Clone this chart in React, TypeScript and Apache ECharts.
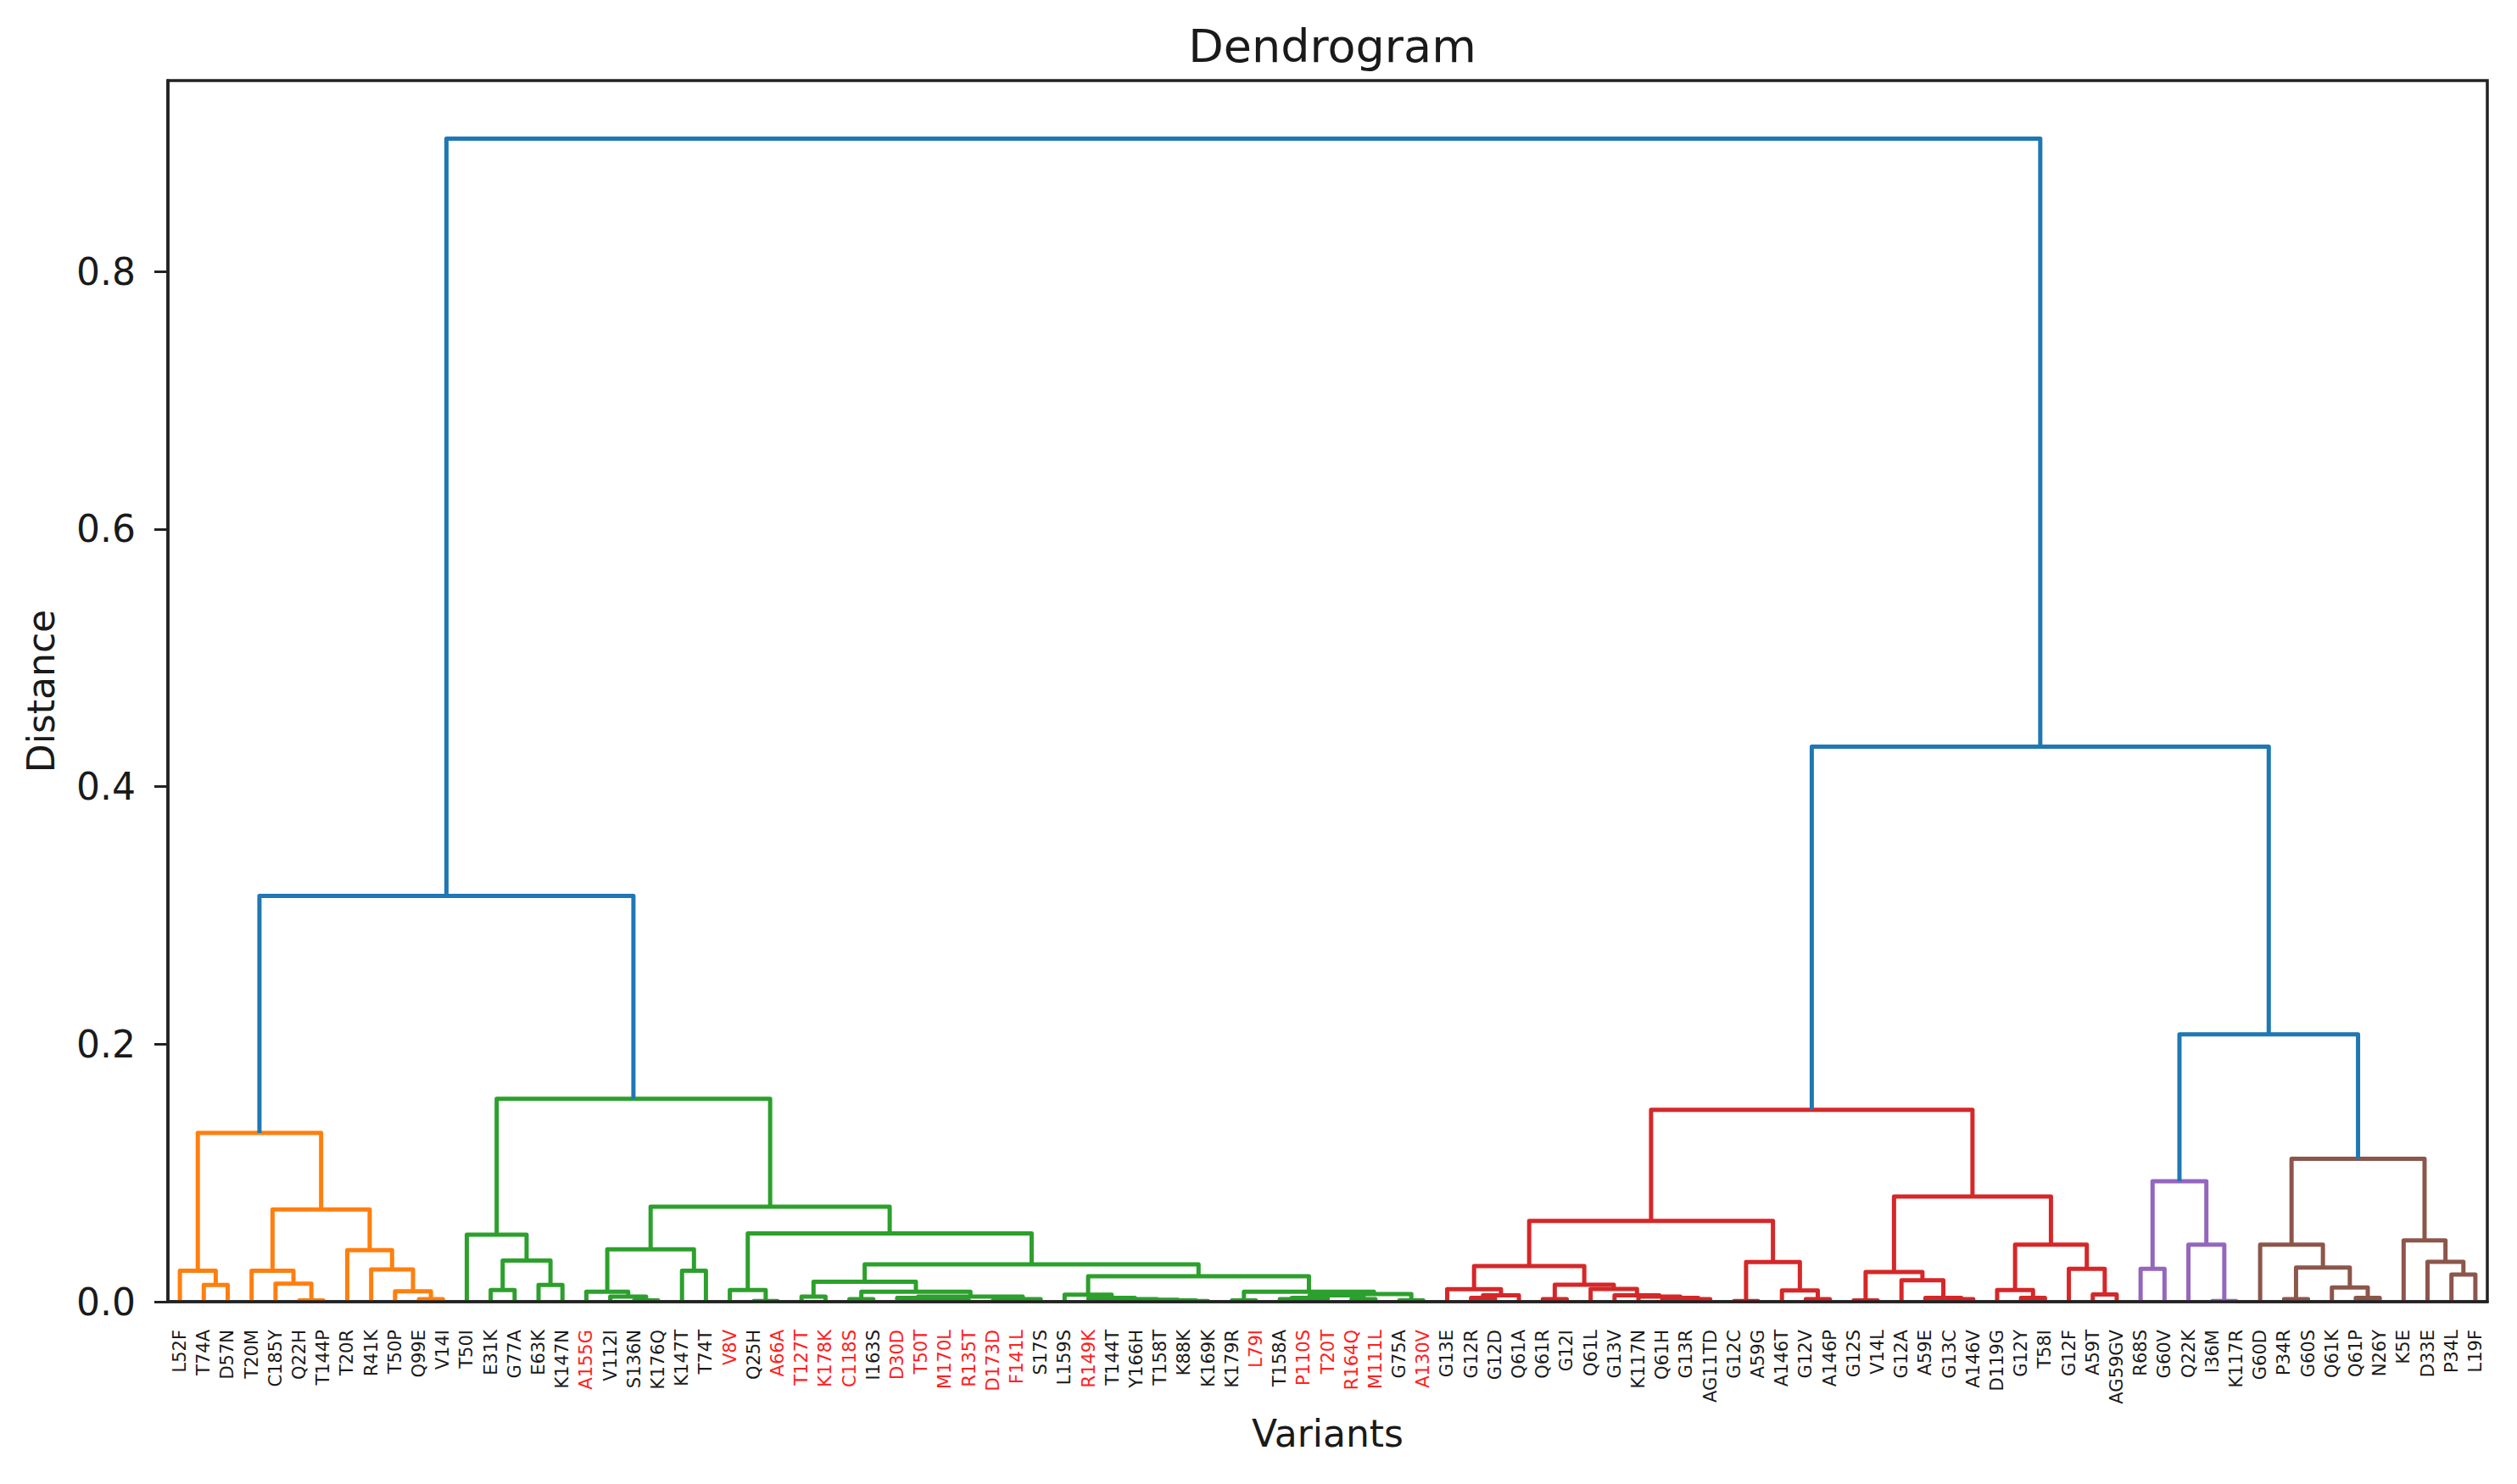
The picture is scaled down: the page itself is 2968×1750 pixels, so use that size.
import React, { useEffect, useRef } from "react";
import * as echarts from "echarts";

// Leaf order along the x axis (left to right)
const leafLabels = [
  "L52F", "T74A", "D57N", "T20M", "C185Y", "Q22H", "T144P", "T20R", "R41K", "T50P", "Q99E", "V14I",
  "T50I", "E31K", "G77A", "E63K", "K147N", "A155G", "V112I", "S136N", "K176Q", "K147T", "T74T",
  "V8V", "Q25H", "A66A", "T127T", "K178K", "C118S", "I163S", "D30D", "T50T", "M170L", "R135T",
  "D173D", "F141L", "S17S", "L159S", "R149K", "T144T", "Y166H", "T158T", "K88K", "K169K", "K179R",
  "L79I", "T158A", "P110S", "T20T", "R164Q", "M111L", "G75A", "A130V",
  "G13E", "G12R", "G12D", "Q61A", "Q61R", "G12I", "Q61L", "G13V", "K117N", "Q61H", "G13R", "AG11TD",
  "G12C", "A59G", "A146T", "G12V", "A146P", "G12S", "V14L", "G12A", "A59E", "G13C", "A146V",
  "D119G", "G12Y", "T58I", "G12F", "A59T", "AG59GV",
  "R68S", "G60V", "Q22K", "I36M", "K117R",
  "G60D", "P34R", "G60S", "Q61K", "Q61P", "N26Y", "K5E", "D33E", "P34L", "L19F",
];

// Labels printed in red
const redLabels = [
  "A155G", "V8V", "A66A", "T127T", "K178K", "C118S", "D30D", "T50T", "M170L", "R135T", "D173D",
  "F141L", "R149K", "L79I", "P110S", "T20T", "R164Q", "M111L", "A130V",
];

// Sub-trees: [left, right, mergeDistance]
const orangeTree = [
  ["L52F", ["T74A", "D57N", 0.013], 0.024],
  [
    ["T20M", ["C185Y", ["Q22H", "T144P", 0.001], 0.014], 0.024],
    ["T20R", ["R41K", ["T50P", ["Q99E", "V14I", 0.002], 0.008], 0.025], 0.04],
    0.0716,
  ],
  0.131,
];

const greenLeft = ["T50I", [["E31K", "G77A", 0.009], ["E63K", "K147N", 0.013], 0.032], 0.052];
const greenMidA = [["A155G", ["V112I", ["S136N", "K176Q", 0.001], 0.004], 0.0077], ["K147T", "T74T", 0.024], 0.0407];
const greenMidB = ["V8V", ["Q25H", "A66A", 0.0005], 0.009];
const greenMidC = [
  ["T127T", "K178K", 0.004],
  [
    ["C118S", "I163S", 0.002],
    [["D30D", ["T50T", ["M170L", "R135T", 0.001], 0.002], 0.003], [["D173D", "F141L", 0.001], "S17S", 0.002], 0.004],
    0.0077,
  ],
  0.0154,
];
const greenRight = [
  ["L159S", ["R149K", ["T144T", ["Y166H", ["T158T", ["K88K", "K169K", 0.0005], 0.001], 0.0015], 0.002], 0.003], 0.0055],
  [
    ["K179R", "L79I", 0.001],
    [[[["T158A", "P110S", 0.002], "T20T", 0.003], ["R164Q", "M111L", 0.002], 0.005], ["G75A", "A130V", 0.001], 0.006],
    0.0077,
  ],
  0.0198,
];
const greenTree = [greenLeft, [greenMidA, [greenMidB, [greenMidC, greenRight, 0.029], 0.053], 0.0737], 0.1575];

const redLeft = [
  ["G13E", [["G12R", "G12D", 0.003], "Q61A", 0.005], 0.0097],
  [["Q61R", "G12I", 0.002], ["Q61L", ["G13V", ["K117N", ["Q61H", ["G13R", "AG11TD", 0.002], 0.003], 0.004], 0.005], 0.0099], 0.0132],
  0.0277,
];
const redMid = [["G12C", "A59G", 0.0005], ["A146T", ["G12V", "A146P", 0.002], 0.0088], 0.0308];
const redRightA = [["G12S", "V14L", 0.001], ["G12A", ["A59E", ["G13C", "A146V", 0.002], 0.003], 0.0166], 0.023];
const redRightB = [["D119G", ["G12Y", "T58I", 0.003], 0.009], ["G12F", ["A59T", "AG59GV", 0.0056], 0.0255], 0.0442];
const redTree = [[redLeft, redMid, 0.0627], [redRightA, redRightB, 0.0816], 0.149];

const purpleTree = [["R68S", "G60V", 0.0255], ["Q22K", ["I36M", "K117R", 0.0005], 0.0442], 0.0935];
const brownTree = [
  ["G60D", [["P34R", "G60S", 0.002], ["Q61K", ["Q61P", "N26Y", 0.003], 0.011], 0.0265], 0.0443],
  ["K5E", ["D33E", ["P34L", "L19F", 0.021], 0.031], 0.0475],
  0.111,
];

// Top-level joins
const fullTree = [[orangeTree, greenTree, 0.315], [redTree, [purpleTree, brownTree, 0.2075], 0.431], 0.903];

const colorThreshold = 0.2;
const clusterColors = ["#ff7f0e", "#2ca02c", "#d62728", "#9467bd", "#8c564b"];
const aboveColor = "#1f77b4";
const yTicks = [0, 0.2, 0.4, 0.6, 0.8];

function buildLinks(tree: any) {
  const links: number[][] = [];
  let clusterCounter = 0;
  const walk = (node: any, cluster: number): { x: number; h: number } => {
    if (typeof node === "string") {
      return { x: 5 + 10 * leafLabels.indexOf(node), h: 0 };
    }
    const h = node[2];
    let c = cluster;
    if (h < colorThreshold && cluster < 0) {
      c = clusterCounter++;
    }
    const l = walk(node[0], c);
    const r = walk(node[1], c);
    links.push([l.x, l.h, r.x, r.h, h, c]);
    return { x: (l.x + r.x) / 2, h };
  };
  walk(tree, -1);
  return links;
}

export default function App() {
  const ref = useRef<HTMLDivElement>(null);
  useEffect(() => {
    if (!ref.current) return;
    const chart = echarts.init(ref.current, undefined, { renderer: "svg" });
    const links = buildLinks(fullTree);
    const redSet = new Set(redLabels);
    const font = "DejaVu Sans";
    const textColor = "#1a1a1a";
    const ymax = 0.903 * 1.05;
    chart.setOption({
      animation: false,
      backgroundColor: "#ffffff",
      title: {
        text: "Dendrogram",
        left: 1566,
        textAlign: "center",
        top: 22,
        textStyle: { fontFamily: font, fontSize: 54, fontWeight: "normal", color: textColor },
      },
      grid: {
        left: 198,
        right: 35,
        top: 95,
        bottom: 215,
        show: true,
        borderColor: "#222",
        borderWidth: 3.5,
        containLabel: false,
      },
      xAxis: [
        { type: "value", min: 0, max: 10 * leafLabels.length, show: false },
        {
          type: "category",
          data: leafLabels,
          position: "bottom",
          boundaryGap: true,
          z: 5,
          name: "Variants",
          nameLocation: "middle",
          nameGap: 133,
          nameTextStyle: { fontFamily: font, fontSize: 44, color: textColor },
          axisLine: { show: true, lineStyle: { color: "#222", width: 3.5 } },
          axisTick: { show: false },
          splitLine: { show: false },
          axisLabel: {
            interval: 0,
            rotate: 90,
            margin: 33,
            fontSize: 21,
            fontFamily: font,
            color: (v: string) => (redSet.has(v) ? "#ff2020" : textColor),
          },
        },
      ],
      yAxis: {
        type: "value",
        min: 0,
        max: ymax,
        interval: 0.2,
        z: 5,
        name: "Distance",
        nameLocation: "middle",
        nameRotate: 90,
        nameGap: 128,
        nameTextStyle: { fontFamily: font, fontSize: 44, color: textColor },
        axisLine: { show: true, lineStyle: { color: "#222", width: 3.5 } },
        axisTick: { show: true, length: 16, lineStyle: { color: "#222", width: 3 }, customValues: yTicks },
        splitLine: { show: false },
        axisLabel: {
          customValues: yTicks,
          margin: 38,
          fontSize: 44,
          fontFamily: font,
          color: textColor,
          formatter: (v: number) => v.toFixed(1),
        },
      },
      series: [
        {
          type: "custom",
          xAxisIndex: 0,
          yAxisIndex: 0,
          encode: { x: [0, 2], y: [1, 3, 4] },
          data: links,
          renderItem: (params: any, api: any) => {
            const x1 = api.value(0);
            const y1 = api.value(1);
            const x2 = api.value(2);
            const y2 = api.value(3);
            const h = api.value(4);
            const c = api.value(5);
            const pts = [api.coord([x1, y1]), api.coord([x1, h]), api.coord([x2, h]), api.coord([x2, y2])];
            return {
              type: "polyline",
              shape: { points: pts },
              style: {
                stroke: c < 0 ? aboveColor : clusterColors[c % clusterColors.length],
                lineWidth: 5,
                fill: null,
                lineJoin: "round",
              },
            };
          },
        },
      ],
    });
    return () => chart.dispose();
  }, []);
  return <div ref={ref} style={{ position: "fixed", left: 0, top: 0, width: 2968, height: 1750 }} />;
}
